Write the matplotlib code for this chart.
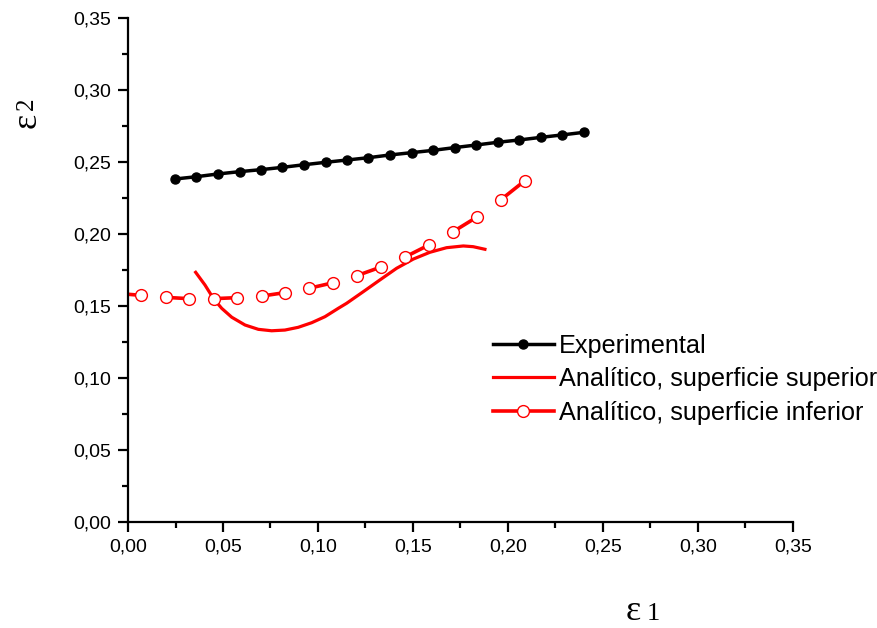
import numpy as np
import matplotlib
matplotlib.use("Agg")
import matplotlib.pyplot as plt
from matplotlib.ticker import MultipleLocator, FuncFormatter
from matplotlib.lines import Line2D

# Experimental data
exp_x = [0.0247, 0.0360, 0.0473, 0.0587, 0.0700, 0.0813, 0.0926, 0.1040, 0.1153, 0.1266,
         0.1379, 0.1493, 0.1606, 0.1719, 0.1832, 0.1946, 0.2059, 0.2172, 0.2285, 0.2398]
exp_y = [0.2382, 0.2398, 0.2417, 0.2433, 0.2447, 0.2463, 0.2481, 0.2498, 0.2514, 0.2530,
         0.2549, 0.2565, 0.2581, 0.2600, 0.2618, 0.2637, 0.2653, 0.2671, 0.2688, 0.2706]

# Analytic, upper surface
sup_x = [0.0356, 0.0405, 0.0449, 0.0493, 0.0546, 0.0616, 0.0686, 0.0756, 0.0826, 0.0896,
         0.0967, 0.1037, 0.1107, 0.1151, 0.1238, 0.1326, 0.1414, 0.1502, 0.1589, 0.1677,
         0.1765, 0.1817, 0.1879]
sup_y = [0.1734, 0.1646, 0.1553, 0.1484, 0.1422, 0.1368, 0.1338, 0.1328, 0.1333, 0.1352,
         0.1384, 0.1426, 0.1484, 0.1519, 0.1599, 0.1681, 0.1762, 0.1826, 0.1873, 0.1905,
         0.1917, 0.1912, 0.1894]

# Analytic, lower surface
inf_x = [-0.0058, 0.0068, 0.0198, 0.0321, 0.0451, 0.0572, 0.0704, 0.0826, 0.0953,
         0.1081, 0.1205, 0.1332, 0.1458, 0.1584, 0.1709, 0.1837, 0.1963, 0.2089]
inf_y = [0.1588, 0.1574, 0.1560, 0.1551, 0.1551, 0.1558, 0.1569, 0.1593, 0.1623,
         0.1662, 0.1711, 0.1771, 0.1840, 0.1924, 0.2014, 0.2118, 0.2238, 0.2370]

fig = plt.figure(figsize=(8.77, 6.28), dpi=100)
ax = fig.add_axes([0.146, 0.1688, 0.758, 0.8025])

ax.plot(exp_x, exp_y, color="black", lw=2.5, marker="o", ms=6.5, zorder=3)
ax.plot(sup_x, sup_y, color="red", lw=2.3, zorder=2)

# lower surface: line drawn between pairs of points
for i in range(0, len(inf_x), 2):
    ax.plot(inf_x[i:i + 2], inf_y[i:i + 2], color="red", lw=2.6, solid_capstyle="butt", zorder=2)
ax.plot(inf_x, inf_y, ls="none", marker="o", ms=8.5, mfc="white", mec="red", mew=1.0, zorder=4)

ax.set_xlim(0, 0.35)
ax.set_ylim(0, 0.35)
ax.xaxis.set_major_locator(MultipleLocator(0.05))
ax.xaxis.set_minor_locator(MultipleLocator(0.025))
ax.yaxis.set_major_locator(MultipleLocator(0.05))
ax.yaxis.set_minor_locator(MultipleLocator(0.025))
fmt = FuncFormatter(lambda v, p: f"{v:.2f}".replace(".", ","))
ax.xaxis.set_major_formatter(fmt)
ax.yaxis.set_major_formatter(fmt)

for s in ["top", "right"]:
    ax.spines[s].set_visible(False)
for s in ["left", "bottom"]:
    ax.spines[s].set_linewidth(1.6)
ax.tick_params(which="major", direction="out", length=7, width=1.6,
               labelsize=14, pad=5)
ax.tick_params(which="minor", direction="out", length=4, width=1.6)
for lab in ax.get_xticklabels() + ax.get_yticklabels():
    lab.set_fontfamily("Liberation Sans")

# axis labels: big epsilon with a smaller digit
fig.text(0.031, 0.808, "ε", rotation=90, fontsize=26, family="Liberation Serif",
         ha="center", va="center")
fig.text(0.031, 0.835, "2", rotation=90, fontsize=18, family="Liberation Serif",
         ha="center", va="center")
fig.text(0.722, 0.013, "ε", fontsize=26, family="Liberation Serif",
         ha="center", va="baseline")
fig.text(0.745, 0.013, "1", fontsize=19, family="Liberation Serif",
         ha="center", va="baseline")

handles = [
    Line2D([], [], color="black", lw=2.5, marker="o", ms=6.5),
    Line2D([], [], color="red", lw=2.3),
    Line2D([], [], color="red", lw=2.6, marker="o", ms=8.5, mfc="white", mec="red", mew=1.0),
]
labels = ["Experimental", "Analítico, superficie superior", "Analítico, superficie inferior"]
ax.legend(handles, labels, loc="upper left", bbox_to_anchor=(0.549, 0.374),
          frameon=False, numpoints=1, handlelength=2.4, handletextpad=0.22,
          labelspacing=0.38, borderpad=0, borderaxespad=0,
          prop={"family": "Liberation Sans", "size": 18.2})

fig.savefig("out.png", dpi=100)
